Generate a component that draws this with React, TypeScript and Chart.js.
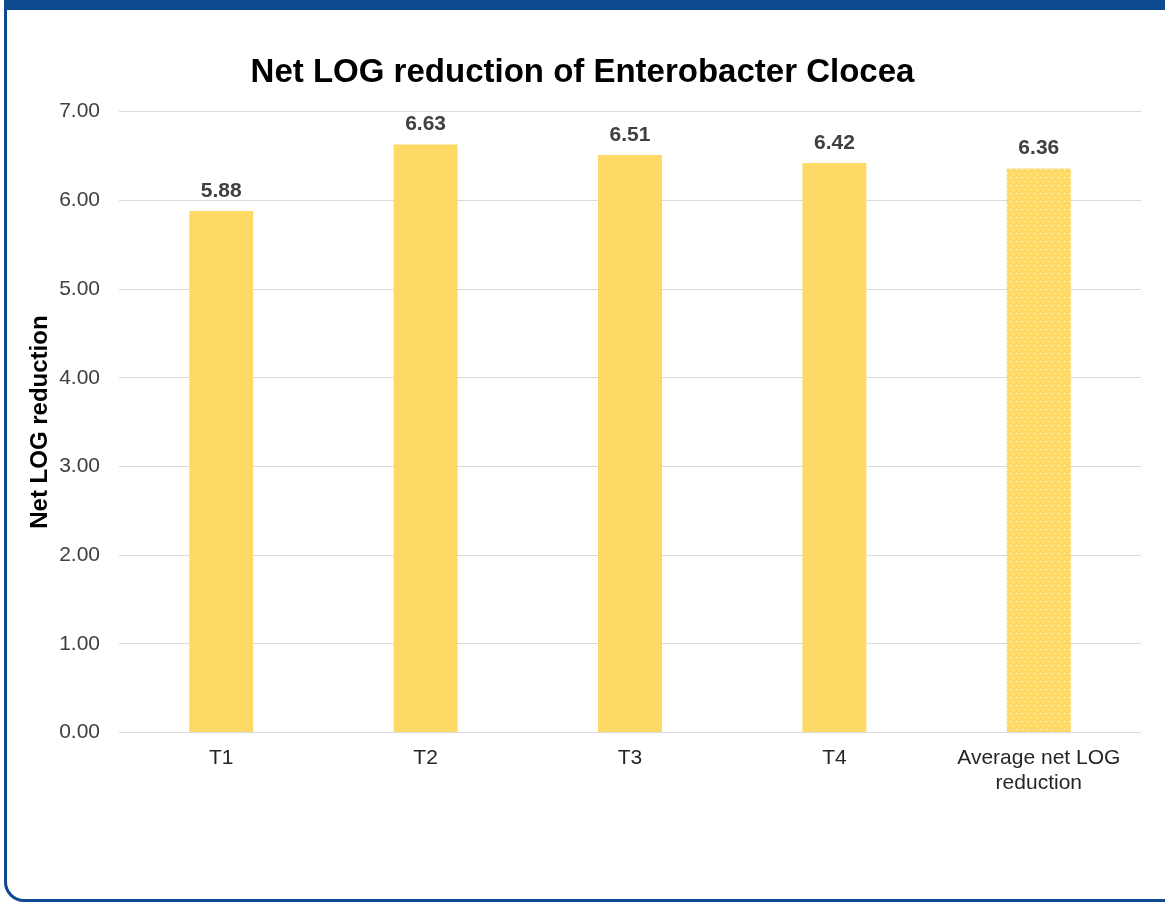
import React, { useEffect, useRef } from "react";
import { Chart, registerables } from "chart.js";

Chart.register(...registerables);

const titleText = "Net LOG reduction of Enterobacter Clocea";
const yAxisTitle = "Net LOG reduction";
const categories: (string | string[])[] = ["T1", "T2", "T3", "T4", ["Average net LOG", "reduction"]];
const values = [5.88, 6.63, 6.51, 6.42, 6.36];
const yMin = 0;
const yMax = 7;
const yStep = 1;

const BAR_COLOR = "#FFD966";
const FRAME_BLUE = "#0E4A91";
const FONT = "'Liberation Sans', Arial, sans-serif";

function makeDotPattern(): CanvasPattern | string {
  const c = document.createElement("canvas");
  c.width = 6;
  c.height = 8;
  const ctx = c.getContext("2d");
  if (!ctx) return BAR_COLOR;
  ctx.fillStyle = BAR_COLOR;
  ctx.fillRect(0, 0, 6, 8);
  ctx.fillStyle = "rgba(255,255,255,0.95)";
  ctx.fillRect(1, 1, 1, 1);
  ctx.fillRect(4, 5, 1, 1);
  const p = ctx.createPattern(c, "repeat");
  return p || BAR_COLOR;
}

const dataLabelPlugin = {
  id: "barValueLabels",
  afterDatasetsDraw(chart: any) {
    const ctx = chart.ctx;
    ctx.save();
    ctx.font = `bold 21px ${FONT}`;
    ctx.fillStyle = "#404040";
    ctx.textAlign = "center";
    ctx.textBaseline = "alphabetic";
    chart.data.datasets.forEach((ds: any, di: number) => {
      const meta = chart.getDatasetMeta(di);
      meta.data.forEach((bar: any, i: number) => {
        const v = ds.data[i];
        ctx.fillText(Number(v).toFixed(2), bar.x, bar.y - 14);
      });
    });
    ctx.restore();
  },
};

export default function App() {
  const canvasRef = useRef<HTMLCanvasElement | null>(null);

  useEffect(() => {
    document.body.style.margin = "0";
    const canvas = canvasRef.current;
    if (!canvas) return;
    const pattern = makeDotPattern();
    const bg = values.map((_, i) => (i === values.length - 1 ? pattern : BAR_COLOR));
    const chart = new Chart(canvas, {
      type: "bar",
      data: {
        labels: categories,
        datasets: [
          {
            data: values,
            backgroundColor: bg as any,
            borderWidth: 0,
            barPercentage: 1,
            categoryPercentage: 0.313,
          },
        ],
      },
      options: {
        animation: false,
        responsive: true,
        maintainAspectRatio: false,
        layout: { padding: { left: 14, right: 17, top: 0, bottom: 83 } },
        plugins: {
          legend: { display: false },
          tooltip: { enabled: false },
          title: {
            display: true,
            text: titleText,
            color: "#000000",
            font: { family: FONT, size: 33, weight: "bold" },
            padding: { top: 41, bottom: 19 },
          },
        },
        scales: {
          x: {
            grid: { display: false, drawTicks: false },
            border: { display: false },
            ticks: {
              color: "#262626",
              font: { family: FONT, size: 21 },
              padding: 13,
              maxRotation: 0,
              autoSkip: false,
            },
          },
          y: {
            min: yMin,
            max: yMax,
            afterFit: (scale: any) => {
              scale.width = 95;
            },
            grid: { color: "#D9D9D9", lineWidth: 1, drawTicks: false },
            border: { display: false },
            ticks: {
              stepSize: yStep,
              color: "#404040",
              font: { family: FONT, size: 21 },
              padding: 19,
              callback: (v: any) => Number(v).toFixed(2),
            },
            title: {
              display: true,
              text: yAxisTitle,
              color: "#000000",
              font: { family: FONT, size: 24, weight: "bold" },
              padding: { top: 2, bottom: 4 },
            },
          },
        },
      },
      plugins: [dataLabelPlugin],
    });
    return () => chart.destroy();
  }, []);

  return (
    <div style={{ position: "fixed", left: 0, top: 0, width: 1165, height: 905, overflow: "hidden", background: "#FFFFFF" }}>
      <div
        style={{
          position: "absolute",
          left: 4,
          top: -20,
          width: 1200,
          height: 922,
          boxSizing: "border-box",
          borderStyle: "solid",
          borderColor: FRAME_BLUE,
          borderWidth: "30px 3px 3px 3px",
          borderRadius: 20,
        }}
      />
      <div style={{ position: "absolute", left: 10, top: 12, width: 1148, height: 880 }}>
        <canvas ref={canvasRef} />
      </div>
    </div>
  );
}
